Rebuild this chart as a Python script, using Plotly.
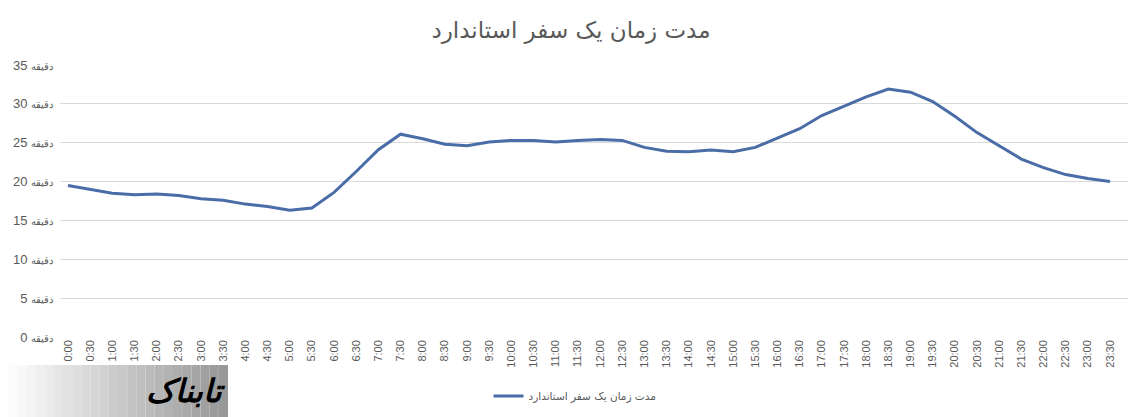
import plotly.graph_objects as go

# half-hour slots
times = [f"{h}:{m:02d}" for h in range(24) for m in (0, 30)]

trip_minutes = [
    19.5, 19.0, 18.5, 18.3, 18.4, 18.2, 17.8, 17.6, 17.1, 16.8, 16.3, 16.6,
    18.6, 21.3, 24.1, 26.1, 25.5, 24.8, 24.6, 25.1, 25.3, 25.3, 25.1, 25.3,
    25.4, 25.3, 24.4, 23.9, 23.85, 24.05, 23.85, 24.4, 25.6, 26.8, 28.5, 29.7,
    30.9, 31.9, 31.5, 30.3, 28.4, 26.3, 24.6, 22.9, 21.8, 20.9, 20.4, 20.0,
]

y_ticks = [0, 5, 10, 15, 20, 25, 30, 35]
y_unit = "دقیقه"
series_name = "مدت زمان یک سفر استاندارد"
title_text = "مدت زمان یک سفر استاندارد"
logo_text = "تابناک"

TEXT = "#595959"
GRID = "#d9d9d9"
LINE = "#4a6da7"

# page body has an 8px margin, so work in screen pixels and shift
OFF = 8
W, H = 1147 - OFF, 417 - OFF
PL, PR, PT, PB = 60, 1128, 65, 337  # plot area on screen
PW, PH = PR - PL, PB - PT


def px(x):
    return (x - PL) / PW


def py(y):
    return (PB - y) / PH


fig = go.Figure()
fig.add_trace(go.Scatter(
    x=times, y=trip_minutes, mode="lines", name=series_name,
    line=dict(color=LINE, width=3),
))

# watermark box (white -> grey gradient faked with strips)
n_strips = 24
for k in range(n_strips):
    g = int(255 - (255 - 150) * (k + 0.5) / n_strips)
    fig.add_shape(type="rect", xref="paper", yref="paper",
                  x0=px(OFF + (228 - OFF) * k / n_strips), x1=px(OFF + (228 - OFF) * (k + 1) / n_strips),
                  y0=py(417), y1=py(365),
                  fillcolor=f"rgb({g},{g},{g})", line_width=0, layer="above")

fig.add_annotation(text=f"<b><i>{logo_text}</i></b>", xref="paper", yref="paper",
                   x=px(228), xanchor="right", y=py(391), yanchor="middle", showarrow=False,
                   font=dict(family="DejaVu Sans", size=32, color="black"))

fig.update_layout(
    width=W, height=H,
    margin=dict(l=PL - OFF, r=1147 - PR, t=PT - OFF, b=417 - PB, autoexpand=False),
    paper_bgcolor="white", plot_bgcolor="white",
    title=dict(text=title_text, x=(571 - OFF) / W, xanchor="center", y=1 - (30 - OFF) / H, yanchor="middle",
               yref="container", font=dict(family="DejaVu Sans", size=23, color=TEXT)),
    showlegend=True,
    legend=dict(orientation="h", x=px(575), xanchor="center", y=py(396), yanchor="middle",
                font=dict(family="DejaVu Sans", size=10.5, color=TEXT), bgcolor="rgba(0,0,0,0)"),
    font=dict(family="Liberation Sans", color=TEXT),
)

fig.update_xaxes(
    type="category", range=[-0.36, 47.81], automargin=False,
    showgrid=False, showline=False, zeroline=False, ticks="",
    tickangle=-90, tickfont=dict(family="Liberation Sans", size=11, color=TEXT),
)
fig.update_yaxes(
    range=[0, 35], tickvals=y_ticks, automargin=False,
    ticktext=[f"<span style='font-size:10px'>{y_unit}</span> {v}" for v in y_ticks],
    showgrid=True, gridcolor=GRID, gridwidth=1, zeroline=False, showline=False, ticks="",
    ticklabelstandoff=6,
    tickfont=dict(family="Liberation Sans", size=13, color=TEXT),
)

fig.write_html("out.html")
